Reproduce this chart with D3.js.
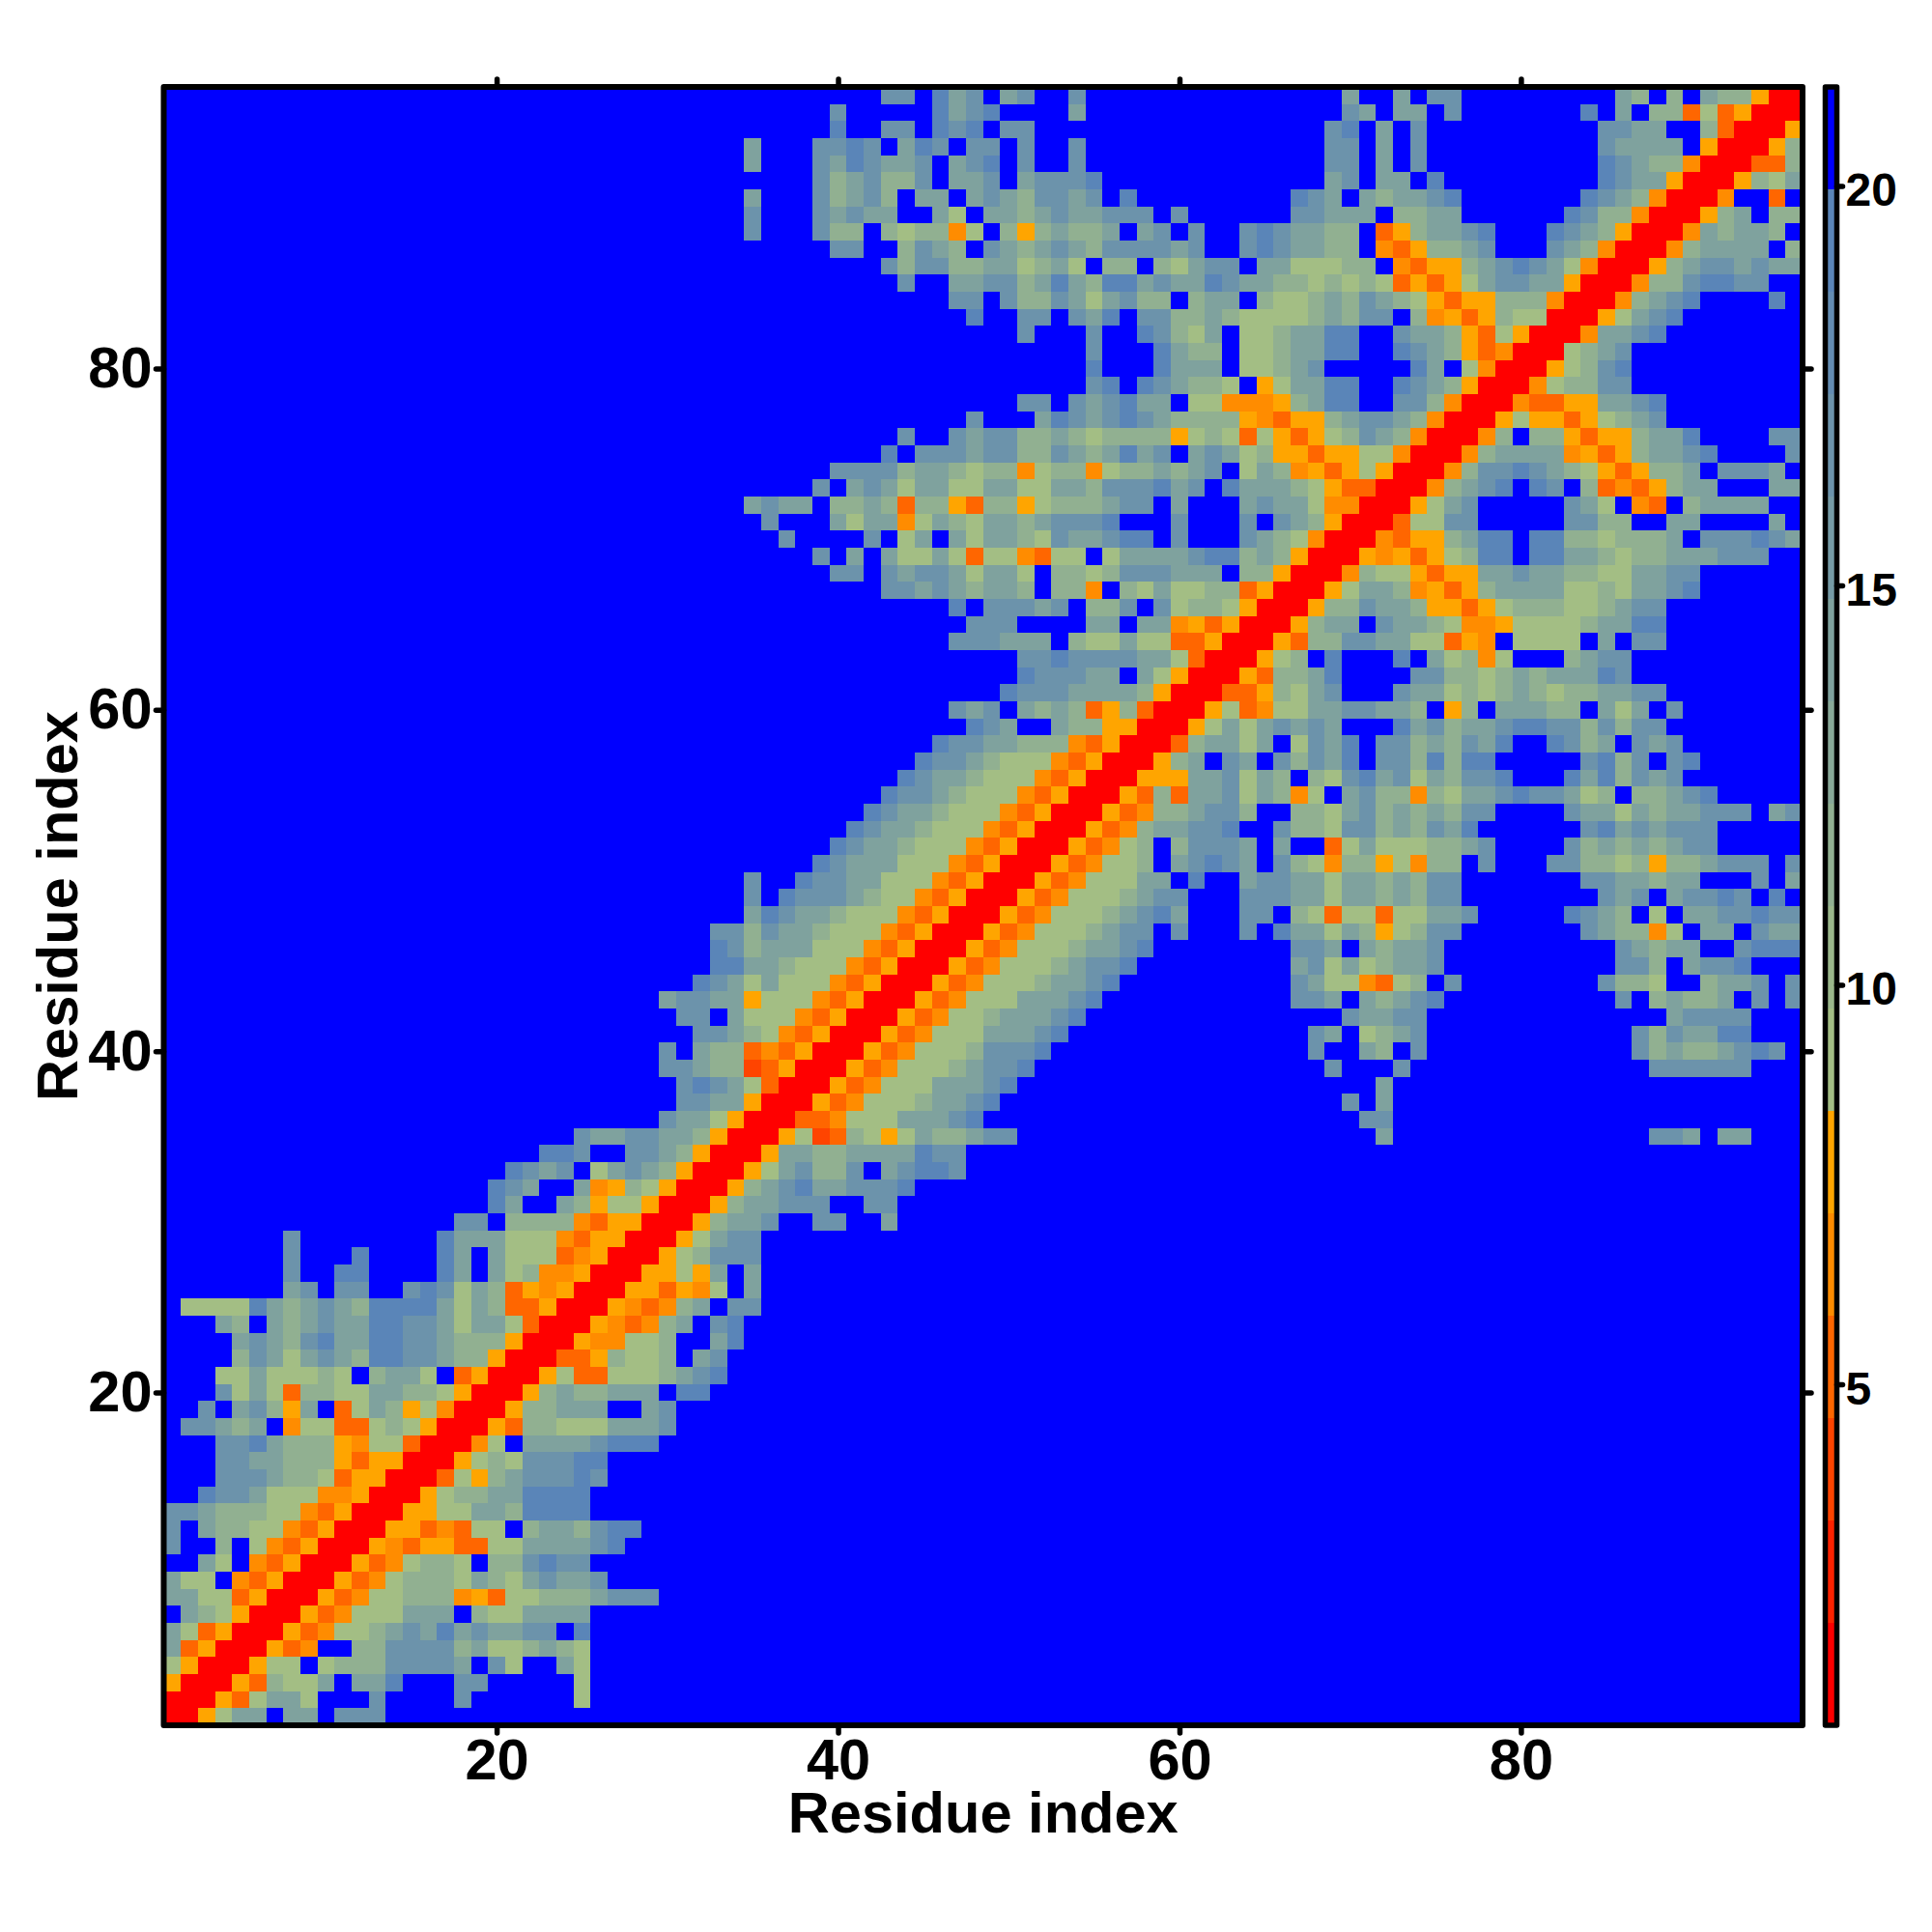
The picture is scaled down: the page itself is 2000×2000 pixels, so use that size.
<!DOCTYPE html>
<html><head><meta charset="utf-8">
<script src="https://cdnjs.cloudflare.com/ajax/libs/d3/7.8.5/d3.min.js"></script>
<style>
html,body{margin:0;padding:0;background:#fff}
text{font-family:"Liberation Sans",Arial,sans-serif;font-weight:700;fill:#000}
</style></head><body><div id="chart"></div>
<script>
// Symmetric residue distance map: one string per row y, read from x = rowStarts[y-1] up to the diagonal.
const rowStarts = [1,1,1,1,1,1,1,1,1,1,1,1,1,1,1,1,1,1,1,1,1,1,1,1,1,
8,8,8,8,18,20,20,21,23,25,30,31,31,30,30,32,31,30,32,33,33,33,35,35,35,
39,40,41,42,43,44,45,46,48,47,50,51,51,47,48,47,43,40,39,37,36,35,39,40,43,
44,48,51,55,55,55,51,48,47,44,43,40,35,35,35,39,35,35,40,40,43];
const rowCells = [
"R","RR","YRR","1YRR","3DYRR","31DYRR",".321YRR","3311DYRR","311.ODYRR","..31.ODYRR",
"4..2.1ODYRR","4.32211ODYRR","44322211ODYRR","..5443111OOYRR","...4443221DYYRR",
"...4433222YDYYRR","...4453222YO11DRR",".44323.O11DD121YRR","..4.342Y3.D132Y1ORR",
"...4131D221133221YRR","...11311121.2331.DYRR","....243134325544322YRR",
"....3432453355443222YRR","...32.323433554431331DRR",".1111532343255553132DDYRR",
"34.44.."+"454132DYOYRR","4..55...."+"53.312OOYRR","4...5...."+"53.3111DOYRR","4........"+"5333111ODYYRR","44.2222ODYYRR",
"53..32Y11YRR","543..3OY21YRR","5434.13432YRR","554..4432YRR","43344332YRR","4331YRR",
"4433YRR","45431DRR","44322XDYRR","4.322DODYRR","44321ODYRR","44.3111ODYRR",
"34433Y111ODYRR","54313111ODYRR","55332111ODYRR","542333111ODYRR","4424332111ODYRR",
"354332111ODYRR","4.54443211ODYRR","4..54433111ODYRR","54333111ODYRR","54332111ODYRR",
"54332111ODYRR","54332111ODYRR","54432111ODYRR","54332111ODYRR","54432111ODYRR",
"54433222ODYRR","543..322YYRR","434.3232DY2DRR","544433332YRR","544433.31YRR",
"4454444331DRR","444333.211311DDYRR","444....33.33OYDYRR","5.44434.224.41221YRR",
"443432332"+".22O."+"2131122"+"DYRR",
"44.4344"+"31331"+"."+"2212"+"444"+"333"+"."+"22"+"YRR",
"4.3.3113"+"1D11OD11"+".133"+"33455"+"232"+"YRR",
"4...."+"4.13."+"31332"+"14334"+"55."+"4..."+"4321"+"ORR",
"4..."+"3133O"+"13213"+"32344"+"45..."+"4..."+"4."+"432"+"YRR",
"3433."+"2232D"+"22YD2"+"2Y122"+"2344."+"3..."+"34331"+"OORR",
"4.3"+"43133"+"11331"+"13324"+"445"+"34.5"+"33321"+"YDD"+"RR",
"44442"+"33212"+"2O122"+"O1223"+"234."+"132OY"+"DY1Y"+"RR",
"5.444"+"34422"+"43235"+"34"+".343"+"12YYD"+"YY11"+"ORR",
"4..43"+"44223"+"21222"+"2"+"Y121"+"D1YDY"+"1243"+"2O"+"RR",
"4..."+"35434"+"543"+"2222"+"YODYY"+"2344"+"32O"+"RR",
"44.43"+"4533"+".11O"+"OOY23"+"55.."+"442O"+"RR",
"45.54"+"3221"+".Y133"+"55.."+"5432"+"YRR",
"5...5"+"333."+"11234"+"....."+"53."+"1ORR",
"4...5"+"322."+"11233"+"55.."+"5432"+"YDORR",
"4..."+"4..54"+"213."+"11233"+"55.."+"4332"+"YD1YRR",
"5..44"+".435."+"44"+"2232"+"11112"+"3244"+".2OY"+"DY211"+"RR",
"44.42"+"24313"+"422"+".233"+".2112"+"3243"+"21YD"+"YY222"+"O"+"RR",
"4..33"+"44235"+"3255"+"34"+"3354"+"33221"+"2121"+"DYDY"+"134433"+"YRR",
"42442"+"23312"+"31.22"+".2"+"1344"+".3311"+"122."+"ODYY"+"2345431"+"O"+"RR",
"44..2"+"432.4"+"32343"+"24444"+"34.."+"45433"+"22.O"+"DY22"+"34"+"..."+"432ORR",
"4..."+"422.2"+"122O1"+".2Y23"+"223.3"+"4"+".4.."+"45433"+"22.D"+"Y233"+"45"+"..."+"5432Y"+"RR",
"4..."+"43433"+"..31."+"33234"+"33444"+"."+"4"+"......"+"44333"+".22"+"33"+"......"+"5422ORR",
"3..."+"42342"+".33.3"+"43244"+"34.5."+"."+"......."+"543"+".32"+"3345"+"......."+"5432ORR",
"42342"+"24.33"+"4.344"+"45"+"............."+"34.33.5"+"........."+"5433YRR",
"3..."+"43543"+"34.34"+"5.4.."+"4"+".............."+"44.3.4"+".........."+"54322ORR",
"3..."+"4454."+"354.4"+"4.4.."+"4"+".............."+"44.3.4"+".........."+"43333.YRR",
"5..44"+".545."+"44"+"................."+"45.3.4"+".........."+"4433..2DRR",
"4....."+"5345"+"...."+"3"+"..............."+"43.33.4"+"......."+"5.3.22D1DYRR",
"44.53"+"4.34"+".."+"4"+"..............."+"3..3.44"+"........."+"32.2.322YRR"
];
const codeKeys   = ["R","X","D","O","Y","1","2","3","4","5","."];
const codeValues = [1.3,4.0,5.2,6.5,7.8,9.0,11.7,14.2,16.8,19.3,21];
const xTicks = [20,40,60,80];
const barTicks = [5,10,15,20];
const warmColors = ["#ff0000","#ff2200","#ff4400","#ff6600","#ff8c00","#ffa500"];
const coolEnds = ["#a3be84","#5a85b8"];
const outOfRange = "#0000ff";
const valueDomain = [0.73,21.24];

const W=2000,H=2000,L=169.5,R=1866,T=90,B=1786;
const svg=d3.select("#chart").append("svg").attr("width",W).attr("height",H).style("display","block");
const x=d3.scaleLinear().domain([0.5,96.5]).range([L,R]);
const y=d3.scaleLinear().domain([0.5,96.5]).range([B,T]);
const cool=d3.quantize(d3.interpolateRgb(coolEnds[0],coolEnds[1]),9);
const palette=[...warmColors,...cool,outOfRange];
const color=d3.scaleQuantize().domain(valueDomain).range(palette);
const valueOf=new Map(codeKeys.map((k,i)=>[k,codeValues[i]]));

const cells=[];
rowCells.forEach((s,i)=>{
  const yi=i+1;
  Array.from(s).forEach((c,j)=>{
    const xi=rowStarts[i]+j, v=valueOf.get(c);
    cells.push({x:xi,y:yi,v});
    if(xi!==yi) cells.push({x:yi,y:xi,v});
  });
});
svg.append("rect").attr("x",L).attr("y",T).attr("width",R-L).attr("height",B-T).attr("fill",color(21));
svg.append("g").selectAll("rect").data(cells).join("rect")
  .attr("x",d=>x(d.x-0.5)).attr("y",d=>y(d.y+0.5))
  .attr("width",d=>x(d.x+0.5)-x(d.x-0.5)).attr("height",d=>y(d.y-0.5)-y(d.y+0.5))
  .attr("fill",d=>color(d.v)).attr("shape-rendering","crispEdges");

function style(g,fs){
  g.select(".domain").remove();
  g.selectAll(".tick line").attr("stroke","#000").attr("stroke-width",5.5).attr("stroke-linecap","round");
  g.selectAll(".tick text").style("font-size",fs+"px").style("font-weight",700).attr("fill","#000");
}
const tick=8;
const gB=svg.append("g").attr("transform",`translate(0,${B})`).call(d3.axisBottom(x).tickValues(xTicks).tickSize(tick).tickPadding(6).tickFormat(d3.format("d")));
style(gB,59.5);
const gL=svg.append("g").attr("transform",`translate(${L},0)`).call(d3.axisLeft(y).tickValues(xTicks).tickSize(tick).tickPadding(4).tickFormat(d3.format("d")));
style(gL,59.5);
const gT=svg.append("g").attr("transform",`translate(0,${T})`).call(d3.axisTop(x).tickValues(xTicks).tickSize(tick).tickFormat(""));
style(gT,59);
const gR=svg.append("g").attr("transform",`translate(${R},0)`).call(d3.axisRight(y).tickValues(xTicks).tickSize(tick+1).tickFormat(""));
style(gR,59);
svg.append("rect").attr("x",L).attr("y",T).attr("width",R-L).attr("height",B-T)
  .attr("fill","none").attr("stroke","#000").attr("stroke-width",6).attr("stroke-linejoin","round");

// colour bar
const barX0=1889.5,barX1=1901.5;
const bar=d3.scaleLinear().domain(valueDomain).range([B,T]);
const step=(valueDomain[1]-valueDomain[0])/palette.length;
svg.append("g").selectAll("rect").data(palette).join("rect")
  .attr("x",barX0).attr("width",barX1-barX0)
  .attr("y",(d,i)=>bar(valueDomain[0]+(i+1)*step))
  .attr("height",(d,i)=>bar(valueDomain[0]+i*step)-bar(valueDomain[0]+(i+1)*step))
  .attr("fill",d=>d).attr("shape-rendering","crispEdges");
svg.append("rect").attr("x",barX0).attr("y",T).attr("width",barX1-barX0).attr("height",B-T)
  .attr("fill","none").attr("stroke","#000").attr("stroke-width",5.5).attr("stroke-linejoin","round");
const gBar=svg.append("g").attr("transform",`translate(${barX1},0)`).call(d3.axisRight(bar).tickValues(barTicks).tickSize(6).tickPadding(3));
style(gBar,48);
gBar.selectAll(".tick text").attr("dy","0.42em");

svg.append("text").attr("x",(L+R)/2).attr("y",1897).attr("text-anchor","middle").style("font-size","59.6px").text("Residue index");
svg.append("text").attr("transform",`translate(80,${(T+B)/2}) rotate(-90)`).attr("text-anchor","middle").style("font-size","59.6px").text("Residue index");
</script></body></html>
